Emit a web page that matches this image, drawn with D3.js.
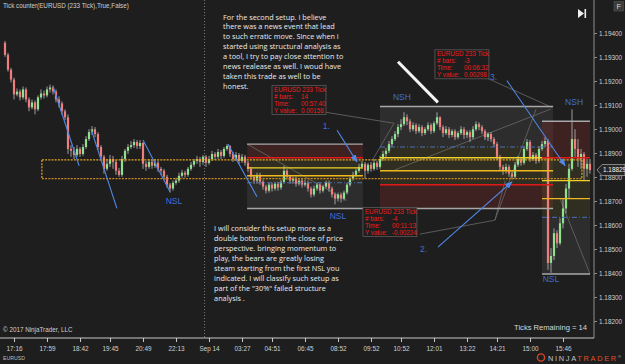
<!DOCTYPE html>
<html>
<head>
<meta charset="utf-8">
<script src="https://cdn.jsdelivr.net/npm/d3@7"></script>
<style>
  body { margin: 0; background: #1e1e1e; }
  svg { display: block; }
</style>
</head>
<body>
<svg id="chart" width="625" height="364"></svg>
<script>
// EURUSD 233 tick bars (open = previous close)
const firstOpen = 1.19359;
const closes = [
  1.19309, 1.19247, 1.19206, 1.19144, 1.19156, 1.19132, 1.19165, 1.19123, 1.19090, 1.19111,
  1.19082, 1.19132, 1.19148, 1.19140, 1.19165, 1.19173, 1.19156, 1.19123, 1.19107, 1.19074,
  1.19049, 1.18917, 1.18909, 1.18892, 1.18917, 1.18896, 1.18925, 1.18958, 1.18987, 1.18999,
  1.18979, 1.18925, 1.18884, 1.18834, 1.18855, 1.18875, 1.18863, 1.18826, 1.18809, 1.18875,
  1.18909, 1.18925, 1.18933, 1.18946, 1.18929, 1.18942, 1.18855, 1.18842, 1.18863, 1.18847,
  1.18859, 1.18834, 1.18826, 1.18801, 1.18768, 1.18752, 1.18776, 1.18785, 1.18805, 1.18818,
  1.18809, 1.18834, 1.18851, 1.18867, 1.18875, 1.18863, 1.18884, 1.18859, 1.18875, 1.18896,
  1.18884, 1.18904, 1.18888, 1.18917, 1.18929, 1.18896, 1.18875, 1.18892, 1.18867, 1.18884,
  1.18859, 1.18834, 1.18801, 1.18785, 1.18809, 1.18780, 1.18760, 1.18743, 1.18768, 1.18752,
  1.18772, 1.18756, 1.18780, 1.18826, 1.18801, 1.18785, 1.18793, 1.18772, 1.18785, 1.18768,
  1.18776, 1.18752, 1.18727, 1.18752, 1.18768, 1.18743, 1.18760, 1.18776, 1.18752, 1.18727,
  1.18710, 1.18727, 1.18710, 1.18735, 1.18768, 1.18793, 1.18809, 1.18826, 1.18842, 1.18855,
  1.18826, 1.18851, 1.18834, 1.18859, 1.18842, 1.18875, 1.18896, 1.18909, 1.18937, 1.18958,
  1.18979, 1.19008, 1.19020, 1.19049, 1.19032, 1.18999, 1.19016, 1.18991, 1.19008, 1.18983,
  1.18999, 1.19016, 1.18991, 1.19024, 1.19049, 1.19008, 1.18983, 1.18999, 1.18975, 1.18991,
  1.18966, 1.18983, 1.18999, 1.18975, 1.18987, 1.18966, 1.18999, 1.19020, 1.19008, 1.18991,
  1.18966, 1.18979, 1.18958, 1.18937, 1.18884, 1.18842, 1.18826, 1.18842, 1.18814, 1.18801,
  1.18851, 1.18875, 1.18859, 1.18917, 1.18946, 1.18875, 1.18892, 1.18867, 1.18917, 1.18937,
  1.18950, 1.18442, 1.18471, 1.18566, 1.18524, 1.18607, 1.18669, 1.18752, 1.18834, 1.18958,
  1.18917, 1.18875, 1.18896, 1.18834, 1.18855, 1.18829
];
const highs = [
  1.19367, 1.19317, 1.19255, 1.19214, 1.19169, 1.19165, 1.19177, 1.19173, 1.19132, 1.19123,
  1.19119, 1.19140, 1.19165, 1.19160, 1.19177, 1.19185, 1.19181, 1.19165, 1.19136, 1.19115,
  1.19082, 1.19061, 1.18933, 1.18925, 1.18933, 1.18925, 1.18937, 1.18970, 1.18999, 1.19012,
  1.19008, 1.18987, 1.18933, 1.18892, 1.18875, 1.18892, 1.18888, 1.18871, 1.18838, 1.18888,
  1.18917, 1.18937, 1.18950, 1.18958, 1.18954, 1.18954, 1.18946, 1.18867, 1.18875, 1.18871,
  1.18875, 1.18867, 1.18842, 1.18834, 1.18809, 1.18776, 1.18785, 1.18797, 1.18818, 1.18830,
  1.18826, 1.18842, 1.18863, 1.18875, 1.18888, 1.18884, 1.18892, 1.18892, 1.18888, 1.18909,
  1.18904, 1.18917, 1.18913, 1.18925, 1.18937, 1.18933, 1.18904, 1.18904, 1.18900, 1.18896,
  1.18892, 1.18867, 1.18842, 1.18809, 1.18818, 1.18818, 1.18789, 1.18768, 1.18776, 1.18776,
  1.18780, 1.18780, 1.18789, 1.18847, 1.18834, 1.18809, 1.18801, 1.18801, 1.18793, 1.18793,
  1.18789, 1.18785, 1.18760, 1.18764, 1.18776, 1.18776, 1.18768, 1.18785, 1.18785, 1.18760,
  1.18735, 1.18735, 1.18735, 1.18743, 1.18776, 1.18801, 1.18822, 1.18834, 1.18855, 1.18867,
  1.18863, 1.18859, 1.18863, 1.18875, 1.18867, 1.18888, 1.18909, 1.18921, 1.18950, 1.18970,
  1.18991, 1.19020, 1.19041, 1.19070, 1.19061, 1.19041, 1.19028, 1.19024, 1.19020, 1.19016,
  1.19008, 1.19028, 1.19024, 1.19032, 1.19070, 1.19053, 1.19016, 1.19012, 1.19008, 1.18999,
  1.18999, 1.18991, 1.19012, 1.19008, 1.18995, 1.18995, 1.19012, 1.19032, 1.19028, 1.19016,
  1.18999, 1.18987, 1.18987, 1.18966, 1.18946, 1.18892, 1.18851, 1.18855, 1.18851, 1.18826,
  1.18863, 1.18888, 1.18884, 1.18929, 1.18958, 1.18954, 1.18904, 1.18900, 1.18929, 1.18950,
  1.18966, 1.18958, 1.18504, 1.18586, 1.18578, 1.18628, 1.18710, 1.18772, 1.18855, 1.19082,
  1.18999, 1.18958, 1.18917, 1.18904, 1.18875, 1.18875
];
const lows = [
  1.19301, 1.19239, 1.19194, 1.19123, 1.19136, 1.19119, 1.19123, 1.19111, 1.19074, 1.19082,
  1.19061, 1.19074, 1.19123, 1.19127, 1.19132, 1.19152, 1.19144, 1.19111, 1.19090, 1.19061,
  1.19037, 1.18896, 1.18884, 1.18875, 1.18884, 1.18884, 1.18888, 1.18917, 1.18950, 1.18975,
  1.18966, 1.18913, 1.18867, 1.18814, 1.18826, 1.18842, 1.18834, 1.18809, 1.18801, 1.18801,
  1.18863, 1.18896, 1.18917, 1.18921, 1.18917, 1.18917, 1.18834, 1.18826, 1.18834, 1.18834,
  1.18838, 1.18822, 1.18809, 1.18789, 1.18756, 1.18735, 1.18743, 1.18768, 1.18776, 1.18797,
  1.18797, 1.18801, 1.18826, 1.18842, 1.18855, 1.18842, 1.18851, 1.18842, 1.18851, 1.18867,
  1.18871, 1.18875, 1.18875, 1.18880, 1.18909, 1.18884, 1.18863, 1.18867, 1.18855, 1.18859,
  1.18847, 1.18822, 1.18789, 1.18772, 1.18772, 1.18768, 1.18747, 1.18731, 1.18735, 1.18739,
  1.18743, 1.18743, 1.18747, 1.18772, 1.18789, 1.18772, 1.18772, 1.18760, 1.18764, 1.18756,
  1.18760, 1.18739, 1.18714, 1.18718, 1.18743, 1.18731, 1.18735, 1.18752, 1.18739, 1.18714,
  1.18686, 1.18698, 1.18694, 1.18702, 1.18727, 1.18760, 1.18785, 1.18801, 1.18818, 1.18834,
  1.18793, 1.18814, 1.18822, 1.18826, 1.18830, 1.18834, 1.18867, 1.18884, 1.18900, 1.18925,
  1.18950, 1.18966, 1.18995, 1.19012, 1.19016, 1.18987, 1.18991, 1.18979, 1.18983, 1.18970,
  1.18975, 1.18991, 1.18979, 1.18983, 1.19016, 1.18995, 1.18966, 1.18975, 1.18962, 1.18966,
  1.18954, 1.18958, 1.18975, 1.18958, 1.18962, 1.18946, 1.18958, 1.18991, 1.18995, 1.18979,
  1.18954, 1.18950, 1.18946, 1.18925, 1.18871, 1.18826, 1.18809, 1.18814, 1.18801, 1.18789,
  1.18793, 1.18842, 1.18847, 1.18851, 1.18909, 1.18863, 1.18867, 1.18855, 1.18859, 1.18909,
  1.18925, 1.18413, 1.18401, 1.18454, 1.18504, 1.18516, 1.18586, 1.18648, 1.18710, 1.18826,
  1.18884, 1.18842, 1.18834, 1.18785, 1.18801, 1.18814
];

// axis ticks
const timeTickBars = [3, 14, 25, 35, 46, 57, 68, 79, 89, 100, 111, 122, 132, 143, 154, 164, 175, 186];
const timeTickLabels = ["17:16", "17:59", "18:42", "19:45", "20:49", "22:13", "Sep 14", "03:27", "04:51",
  "06:45", "08:52", "09:52", "10:52", "12:01", "13:22", "14:21", "15:00", "15:46"];
const priceTicks = [1.182, 1.183, 1.184, 1.185, 1.186, 1.187, 1.188, 1.189, 1.190, 1.191, 1.192, 1.193, 1.194];
const sessionBreak = 66.5;

// drawing objects, all in [bar, price]
const trendLines = [
  [[16, 1.19177], [24.7, 1.18847]],
  [[28.7, 1.18999], [37.3, 1.18669]],
  [[46, 1.18954], [55, 1.18739]],
  [[74.3, 1.18937], [84, 1.18718]]
];
const arrows = [
  { label: "1.", at: [108.3, 1.19008], from: [110.7, 1.18995], to: [117.3, 1.18863] },
  { label: "2.", at: [140.7, 1.18496], from: [144.3, 1.18508], to: [169, 1.18780] },
  { label: "3.", at: [164, 1.19214], from: [167.3, 1.19202], to: [186.7, 1.18847] }
];
const whiteLine = [[131, 1.19280], [144.3, 1.19111]];
const swingLabels = [
  { text: "NSL", at: [56.3, 1.18698] },
  { text: "NSL", at: [111, 1.18636] },
  { text: "NSL", at: [182, 1.18372] },
  { text: "NSH", at: [132.3, 1.19132] },
  { text: "NSH", at: [189.7, 1.19111] }
];
// risk/reward boxes: top, red, yellow, yellow, blue, bottom
const rrBoxes = [
  { x0: 80.7, x1: 119.3, top: 1.18937, red: 1.18880, y1: 1.18838, y2: 1.18805, blue: 1.18776, bottom: 1.18669 },
  { x0: 125, x1: 182.7, top: 1.19094, red: 1.18768, y1: 1.18880, y2: 1.18826, blue: 1.18925, bottom: 1.18669 },
  { x0: 179, x1: 195, top: 1.19032, red: 1.18880, y1: 1.18785, y2: 1.18710, blue: 1.18632, bottom: 1.18396 }
];
const zoneBox = { x0: 12.3, x1: 192.3, top: 1.18871, bottom: 1.18793 };
const rulerLines = [
  [[106.7, 1.19070], [129.7, 1.19024]],
  [[129.7, 1.19024], [122.7, 1.18875]],
  [[138.3, 1.18562], [163.3, 1.18620]],
  [[163.3, 1.18620], [166.7, 1.18785]],
  [[161, 1.19210], [182.3, 1.19090]],
  [[177, 1.19082], [163.3, 1.18620]],
  [[80.7, 1.18937], [114, 1.18702]],
  [[130, 1.18830], [181.7, 1.19082]],
  [[185, 1.18710], [195, 1.18396]]
];
const rulerBoxes = [
  { at: [89, 1.19181], bars: "14", time: "00:57:40", yv: "0.00158" },
  { at: [119.3, 1.18673], bars: "-4", time: "00:11:13", yv: "-0.00224" },
  { at: [143.3, 1.19330], bars: "-3", time: "00:06:32", yv: "0.00298" }
];
const noteTop = {
  at: [72.7, 1.19456],
  lines: ["For the second setup. I believe", "there was a news event that lead",
    "to such erratic move. Since when i", "started using structural analysis as",
    "a tool, I try to pay close attention to", "news realease as well. I woud have",
    "taken this trade as well to be", "honest."]
};
const noteBottom = {
  at: [69.7, 1.18574],
  lines: ["I will consider this setup more as a", "double bottom from the close of price",
    "perspective. bringing momentum to", "play, the bears are greatly losing",
    "steam starting from the first NSL you", "indicated. I will classify such setup as",
    "part of the \"30%\" failed structure", "analysis ."]
};

const W = 625, H = 364, axisX = 594, axisY = 338;
const svg = d3.select("#chart");
svg.append("rect").attr("width", W).attr("height", H).attr("fill", "#1e1e1e");

const x = d3.scaleLinear().domain([0, 195]).range([5, 590]);
const y = d3.scaleLinear().domain([1.182, 1.194]).range([321, 33]);
const px = p => [x(p[0]), y(p[1])];

const plot = svg.append("g");
plot.append("defs").append("clipPath").attr("id", "clip")
  .append("rect").attr("width", axisX).attr("height", axisY);
const g = plot.append("g").attr("clip-path", "url(#clip)");

// session break
g.append("line")
  .attr("x1", x(sessionBreak)).attr("x2", x(sessionBreak))
  .attr("y1", 0).attr("y2", axisY)
  .attr("stroke", "#777").attr("stroke-dasharray", "1,2");

// risk/reward box fills
const zoneFill = { red: "rgba(130,45,45,0.32)", olive: "rgba(110,105,40,0.22)", grey: "rgba(150,150,150,0.13)" };
rrBoxes.forEach(b => {
  const bands = b.red < b.blue
    ? [[b.top, b.blue, "grey"], [b.blue, b.red, "olive"], [b.red, b.bottom, "red"]]
    : [[b.top, b.red, "red"], [b.red, b.blue, "olive"], [b.blue, b.bottom, "grey"]];
  bands.forEach(([a, c, k]) => {
    g.append("rect")
      .attr("x", x(b.x0)).attr("width", x(b.x1) - x(b.x0))
      .attr("y", y(a)).attr("height", y(c) - y(a))
      .attr("fill", zoneFill[k]);
  });
});

// faint ruler/diagonal lines
rulerLines.forEach(l => {
  g.append("line")
    .attr("x1", px(l[0])[0]).attr("y1", px(l[0])[1])
    .attr("x2", px(l[1])[0]).attr("y2", px(l[1])[1])
    .attr("stroke", "#6a6a6a").attr("stroke-width", 0.8);
});

// candles
const bars = closes.map((c, i) => ({
  i, c, o: i ? closes[i - 1] : firstOpen, h: highs[i], l: lows[i]
}));
const candle = g.append("g").selectAll("g").data(bars).join("g");
candle.append("line")
  .attr("x1", d => x(d.i)).attr("x2", d => x(d.i))
  .attr("y1", d => y(d.h)).attr("y2", d => y(d.l))
  .attr("stroke", "#bdbdbd").attr("stroke-width", 0.8);
candle.append("rect")
  .attr("x", d => x(d.i) - 1.1).attr("width", 2.2)
  .attr("y", d => y(Math.max(d.o, d.c)))
  .attr("height", d => Math.max(1, Math.abs(y(d.o) - y(d.c))))
  .attr("fill", d => d.c >= d.o ? "#8fe08f" : "#ee7d7d");

// zone rectangle (dotted)
const zb = g.append("g").attr("fill", "none").attr("stroke-width", 1.3).attr("stroke-dasharray", "2,1.2");
zb.append("line").attr("x1", x(zoneBox.x0)).attr("x2", x(zoneBox.x1))
  .attr("y1", y(zoneBox.top)).attr("y2", y(zoneBox.top)).attr("stroke", "#e8a81c");
zb.append("line").attr("x1", x(zoneBox.x0)).attr("x2", x(zoneBox.x1))
  .attr("y1", y(zoneBox.bottom)).attr("y2", y(zoneBox.bottom)).attr("stroke", "#c98a1e");
[zoneBox.x0, zoneBox.x1].forEach(v => {
  zb.append("line").attr("x1", x(v)).attr("x2", x(v))
    .attr("y1", y(zoneBox.top)).attr("y2", y(zoneBox.bottom)).attr("stroke", "#d89a1e");
});

// risk/reward lines
rrBoxes.forEach(b => {
  const hl = (p, col, w, dash) => g.append("line")
    .attr("x1", x(b.x0)).attr("x2", x(b.x1)).attr("y1", y(p)).attr("y2", y(p))
    .attr("stroke", col).attr("stroke-width", w).attr("stroke-dasharray", dash || null);
  hl(b.top, "#a8a8a8", 1.4);
  hl(b.bottom, "#a8a8a8", 1.4);
  hl(b.red, "#e01818", 1.6);
  hl(b.y1, "#f0d22a", 1.4);
  hl(b.y2, "#f0b81e", 1.4);
  hl(b.blue, "#4a6fb8", 1, "5,2,1,2");
});

// trend lines
trendLines.forEach(l => {
  g.append("line")
    .attr("x1", px(l[0])[0]).attr("y1", px(l[0])[1])
    .attr("x2", px(l[1])[0]).attr("y2", px(l[1])[1])
    .attr("stroke", "#5088e6").attr("stroke-width", 1.1);
});

// arrows
svg.append("defs").append("marker")
  .attr("id", "ah").attr("viewBox", "0 0 10 10").attr("refX", 9).attr("refY", 5)
  .attr("markerWidth", 7).attr("markerHeight", 7).attr("orient", "auto")
  .append("path").attr("d", "M0,1L10,5L0,9z").attr("fill", "#5088e6");
arrows.forEach(a => {
  g.append("line")
    .attr("x1", px(a.from)[0]).attr("y1", px(a.from)[1])
    .attr("x2", px(a.to)[0]).attr("y2", px(a.to)[1])
    .attr("stroke", "#5088e6").attr("stroke-width", 1.1)
    .attr("marker-end", "url(#ah)");
  g.append("text").attr("x", px(a.at)[0]).attr("y", px(a.at)[1])
    .attr("dominant-baseline", "middle").attr("text-anchor", "end")
    .attr("font-family", "Liberation Sans, Arial, sans-serif").attr("font-size", 8.5)
    .attr("fill", "#4070d8").text(a.label);
});

// white line
g.append("line")
  .attr("x1", px(whiteLine[0])[0]).attr("y1", px(whiteLine[0])[1])
  .attr("x2", px(whiteLine[1])[0]).attr("y2", px(whiteLine[1])[1])
  .attr("stroke", "#f4f4f4").attr("stroke-width", 3);

// swing labels
swingLabels.forEach(s => {
  g.append("text").attr("x", px(s.at)[0]).attr("y", px(s.at)[1])
    .attr("text-anchor", "middle").attr("dominant-baseline", "middle")
    .attr("font-family", "Liberation Sans, Arial, sans-serif").attr("font-size", 8.5)
    .attr("fill", "#3f6fd8").text(s.text);
});

// ruler info boxes
rulerBoxes.forEach(r => {
  const [bx, by] = px(r.at);
  const bg = g.append("g").attr("transform", `translate(${bx},${by})`);
  bg.append("rect").attr("width", 54).attr("height", 29)
    .attr("fill", "#1e1e1e").attr("fill-opacity", 0.85).attr("stroke", "#5a5a5a").attr("stroke-width", 0.8);
  const rows = [["EURUSD 233 Tick", ""], ["# bars:", r.bars], ["Time:", r.time], ["Y value:", r.yv]];
  rows.forEach((row, k) => {
    const t = bg.append("g").attr("font-family", "Liberation Sans, Arial, sans-serif")
      .attr("font-size", 6.3).attr("fill", "#f01c1c");
    t.append("text").attr("x", 2).attr("y", 6.5 + k * 6.9).text(row[0]);
    t.append("text").attr("x", 29).attr("y", 6.5 + k * 6.9).text(row[1]);
  });
});

// notes
[noteTop, noteBottom].forEach(n => {
  const [nx, ny] = px(n.at);
  const t = g.append("text").attr("font-family", "Open Sans, sans-serif")
    .attr("font-size", 7.3).attr("fill", "#ececec");
  n.lines.forEach((s, k) => {
    t.append("tspan").attr("x", nx).attr("y", ny + k * 9.9).text(s);
  });
});

// axes
const lab = "Liberation Sans, Arial, sans-serif";
svg.append("line").attr("x1", axisX).attr("x2", axisX).attr("y1", 0).attr("y2", axisY)
  .attr("stroke", "#8c8c8c");
svg.append("line").attr("x1", 0).attr("x2", axisX).attr("y1", axisY).attr("y2", axisY)
  .attr("stroke", "#c8c8c8");

const yAxis = svg.append("g").attr("transform", `translate(${axisX},0)`)
  .call(d3.axisRight(y).tickValues(priceTicks).tickFormat(d3.format(".5f")).tickSize(3).tickPadding(2));
yAxis.select(".domain").remove();
yAxis.selectAll("line").attr("stroke", "#8c8c8c");
yAxis.selectAll("text").attr("fill", "#d0d0d0").attr("font-family", lab).attr("font-size", 6.4);

const xAxis = svg.append("g").attr("transform", `translate(0,${axisY})`)
  .call(d3.axisBottom(x).tickValues(timeTickBars).tickFormat((d, i) => timeTickLabels[i]).tickSize(4).tickPadding(4));
xAxis.select(".domain").remove();
xAxis.selectAll("line").attr("stroke", "#c8c8c8");
xAxis.selectAll("text").attr("fill", "#d0d0d0").attr("font-family", lab).attr("font-size", 6.4);

// last price marker
const lastY = y(closes[closes.length - 1]);
const mk = svg.append("g").attr("transform", `translate(0,${lastY})`);
mk.append("path").attr("d", `M597,0L602,-5.5L625,-5.5L625,5.5L602,5.5Z`)
  .attr("fill", "#262626").attr("stroke", "#a0a0a0").attr("stroke-width", 0.8);
mk.append("text").attr("x", 603).attr("y", 0).attr("dominant-baseline", "middle")
  .attr("font-family", lab).attr("font-size", 6.4).attr("fill", "#f2f2f2")
  .text(d3.format(".5f")(closes[closes.length - 1]));

// chrome / overlay texts
svg.append("text").attr("x", 3).attr("y", 8).attr("font-family", lab).attr("font-size", 6.3)
  .attr("fill", "#cfcfcf").text("Tick counter(EURUSD (233 Tick),True,False)");
svg.append("text").attr("x", 3).attr("y", 332).attr("font-family", lab).attr("font-size", 6.3)
  .attr("fill", "#cfcfcf").text("© 2017 NinjaTrader, LLC");
svg.append("text").attr("x", 587).attr("y", 330).attr("text-anchor", "end")
  .attr("font-family", lab).attr("font-size", 7.6).attr("fill", "#d8d8d8").text("Ticks Remaining = 14");
svg.append("text").attr("x", 3).attr("y", 360).attr("font-family", lab).attr("font-size", 5.2)
  .attr("fill", "#bbbbbb").text("EURUSD");

// scroll-to-end icon and F button
svg.append("path").attr("d", "M578,9L584,13.5L578,18Z").attr("fill", "#f0f0f0");
svg.append("rect").attr("x", 584.5).attr("y", 9).attr("width", 1.6).attr("height", 9).attr("fill", "#f0f0f0");
svg.append("rect").attr("x", 614).attr("y", 1.5).attr("width", 9.5).attr("height", 9.5)
  .attr("fill", "#3b3b3b").attr("stroke", "#555").attr("stroke-width", 0.6);
svg.append("text").attr("x", 618.7).attr("y", 9).attr("text-anchor", "middle")
  .attr("font-family", lab).attr("font-size", 7.5).attr("fill", "#d8d8d8").text("F");

// logo
svg.append("circle").attr("cx", 541).attr("cy", 357.5).attr("r", 3.6)
  .attr("fill", "none").attr("stroke", "#d8462a").attr("stroke-width", 1.4);
const logo = svg.append("text").attr("x", 548).attr("y", 360.5).attr("font-family", lab)
  .attr("font-size", 7.4).attr("letter-spacing", 1.7);
logo.append("tspan").attr("fill", "#c4c4c4").text("NINJA");
logo.append("tspan").attr("fill", "#e0502a").text("TRADER");
logo.append("tspan").attr("fill", "#c4c4c4").attr("font-size", 4).attr("dy", -3).text("®");
</script>
</body>
</html>
